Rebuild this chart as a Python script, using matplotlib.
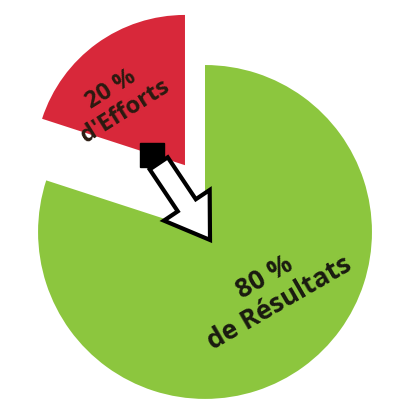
import matplotlib
matplotlib.use("Agg")
import matplotlib.pyplot as plt
from matplotlib.patches import FancyArrow

labels = ["80 %", "20 %"]
values = [80, 20]
colors = ["#8cc63e", "#d8283a"]

fig = plt.figure(figsize=(4, 4), dpi=100)
ax = fig.add_axes([0, 0, 1, 1])
# green part
ax.pie(values, colors=[colors[0], "none"], startangle=90, counterclock=False, radius=1.0)
# red part, displaced
ax.pie(values, colors=["none", colors[1]], startangle=90, counterclock=False,
       radius=0.9, center=(-0.12, 0.40))
ax.set_xlim(-1.228, 1.168)
ax.set_ylim(-1.006, 1.389)
ax.set_aspect("equal")
ax.axis("off")

def px(x, y):
    return ((x - 205) / 167, (232 - y) / 167)

ax.text(*px(118, 100), "20 %\nd'Efforts", rotation=32, ha="center", va="center",
        fontsize=17, fontweight="bold", color="#2a1a10", linespacing=1.1,
        family="Open Sans")
ax.text(*px(272, 290), "80 %\nde Résultats", rotation=30, ha="center", va="center",
        fontsize=19, fontweight="bold", color="#1a1a10", linespacing=1.1,
        family="Open Sans")

# arrow
x0, y0 = px(152, 155)
x1, y1 = px(210, 240)
ax.add_patch(plt.Rectangle((x0 - 0.07, y0 - 0.07), 0.14, 0.14,
                           color="black", zorder=3))
ax.add_patch(FancyArrow(x0 + 0.04, y0 - 0.05, x1 - x0 - 0.04, y1 - y0 + 0.05,
                        width=0.13, head_width=0.33, head_length=0.25,
                        length_includes_head=True, facecolor="white",
                        edgecolor="black", linewidth=3, zorder=4))
fig.savefig("out.png", dpi=100)
